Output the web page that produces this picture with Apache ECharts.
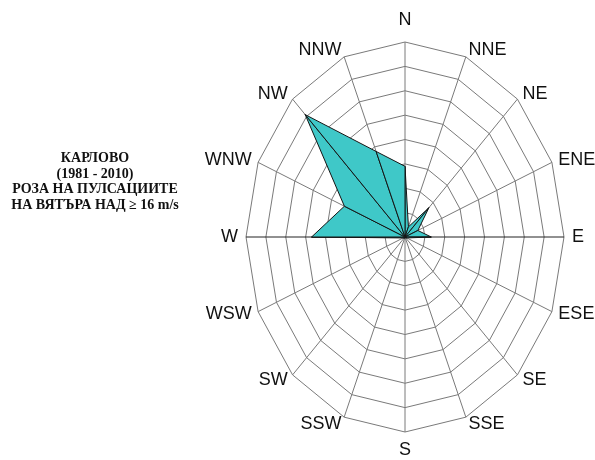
<!DOCTYPE html>
<html>
<head>
<meta charset="utf-8">
<script src="https://cdn.jsdelivr.net/npm/echarts@6/dist/echarts.min.js"></script>
<style>
  html, body { margin: 0; padding: 0; background: #fff; }
  #chart { width: 595px; height: 460px; }
</style>
</head>
<body>
<div id="chart"></div>
<script>
// directions, clockwise from north
const DIRECTIONS = ['N', 'NNE', 'NE', 'ENE', 'E', 'ESE', 'SE', 'SSE',
                    'S', 'SSW', 'SW', 'WSW', 'W', 'WNW', 'NW', 'NNW'];
const VALUES = [2.9, 0.45, 1.7, 0.7, 1.32, 0.1, 0, 0,
                0.05, 0.05, 0.05, 0.1, 4.7, 3.3, 7.1, 3.8];
const RINGS = [1, 2, 3, 4, 5, 6, 7, 8];
const RING_MAX = 8;
const TITLE_LINES = ['КАРЛОВО', '(1981 - 2010)', 'РОЗА НА ПУЛСАЦИИТЕ', 'НА ВЯТЪРА НАД ≥ 16 m/s'];

const N = DIRECTIONS.length;
const angle = i => (i / N) * Math.PI * 2;
const toXY = (i, r) => [r * Math.sin(angle(i)), r * Math.cos(angle(i))];

const chart = echarts.init(document.getElementById('chart'));

chart.setOption({
  animation: false,
  backgroundColor: '#fff',
  grid: { left: 246, top: 42, width: 318, height: 390 },
  xAxis: { type: 'value', min: -RING_MAX, max: RING_MAX, show: false },
  yAxis: { type: 'value', min: -RING_MAX, max: RING_MAX, show: false },
  graphic: [{
    type: 'text',
    x: 95,
    y: 151,
    style: {
      text: TITLE_LINES.join('\n'),
      textAlign: 'center',
      textVerticalAlign: 'top',
      fill: '#111',
      font: 'bold 14px "Liberation Serif"',
      lineHeight: 15.5
    }
  }],
  series: [
    {
      // concentric 16-gon rings
      type: 'custom',
      clip: false,
      silent: true,
      z: 1,
      data: RINGS.map(r => [r]),
      renderItem: (params, api) => {
        const r = api.value(0);
        const pts = DIRECTIONS.map((d, i) => api.coord(toXY(i, r)));
        return {
          type: 'polygon',
          shape: { points: pts },
          style: { fill: null, stroke: '#7a7a7a', lineWidth: 1 }
        };
      }
    },
    {
      // spokes
      type: 'custom',
      clip: false,
      silent: true,
      z: 2,
      data: DIRECTIONS.map((d, i) => [i]),
      renderItem: (params, api) => {
        const i = api.value(0);
        const c = api.coord([0, 0]);
        const p = api.coord(toXY(i, RING_MAX));
        const ew = DIRECTIONS[i] === 'E' || DIRECTIONS[i] === 'W';
        return {
          type: 'line',
          shape: { x1: c[0], y1: c[1], x2: p[0], y2: p[1] },
          style: { stroke: ew ? '#222' : '#7a7a7a', lineWidth: 1 }
        };
      }
    },
    {
      // wind rose, drawn as one triangle per sector
      type: 'custom',
      clip: false,
      z: 3,
      data: VALUES.map((v, i) => [i, v]),
      renderItem: (params, api) => {
        const i = api.value(0);
        const j = (i + 1) % N;
        return {
          type: 'polygon',
          shape: {
            points: [
              api.coord([0, 0]),
              api.coord(toXY(i, VALUES[i])),
              api.coord(toXY(j, VALUES[j]))
            ]
          },
          style: { fill: '#3fc8c8', stroke: '#151515', lineWidth: 1, lineJoin: 'round' }
        };
      }
    },
    {
      // direction names
      type: 'custom',
      clip: false,
      silent: true,
      z: 4,
      data: DIRECTIONS.map((d, i) => [i]),
      renderItem: (params, api) => {
        const i = api.value(0);
        const s = Math.sin(angle(i));
        const c = Math.cos(angle(i));
        const p = api.coord(toXY(i, RING_MAX));
        let dx = s * 7;
        let dy = -c * 7;
        if (Math.abs(s) < 0.1) dy = c > 0 ? -22 : 18;
        if (DIRECTIONS[i] === 'E' || DIRECTIONS[i] === 'W') dx = s * 8;
        return {
          type: 'text',
          x: p[0] + dx,
          y: p[1] + dy,
          style: {
            text: DIRECTIONS[i],
            textAlign: s > 0.1 ? 'left' : (s < -0.1 ? 'right' : 'center'),
            textVerticalAlign: 'middle',
            fill: '#111',
            font: '18px "Liberation Sans", Arial, sans-serif'
          }
        };
      }
    }
  ]
});
</script>
</body>
</html>
